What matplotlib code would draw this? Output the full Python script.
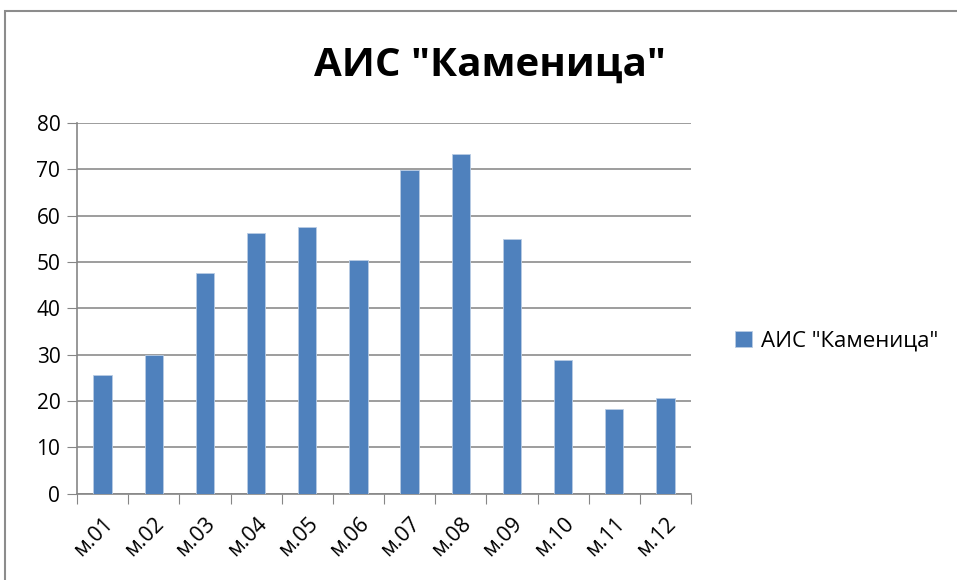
import matplotlib
matplotlib.use('Agg')
import matplotlib.pyplot as plt
from matplotlib.patches import Rectangle
import numpy as np

months = ['м.01', 'м.02', 'м.03', 'м.04', 'м.05', 'м.06',
          'м.07', 'м.08', 'м.09', 'м.10', 'м.11', 'м.12']
values = [25.6, 30.0, 47.6, 56.3, 57.5, 50.5, 69.9, 73.3, 54.9, 28.9, 18.2, 20.6]
y_ticks = [0, 10, 20, 30, 40, 50, 60, 70, 80]
series_name = 'АИС "Каменица"'

plt.rcParams['font.family'] = ['Open Sans', 'DejaVu Sans']

fig = plt.figure(figsize=(9.57, 5.8), dpi=100)
ax = fig.add_axes([77 / 957, 1 - 493.5 / 580, (691 - 77) / 957, (493.5 - 123) / 580])

# outer chart frame
fig.patches.append(Rectangle((5 / 957, -0.05), 1.2, 1 - 11 / 580 + 0.05,
                             transform=fig.transFigure, fill=False,
                             edgecolor='#8c8c8c', linewidth=1.5))

x = np.arange(len(months))
ax.bar(x, values, width=0.36, color='#4F81BD', edgecolor='#b8cce4',
       linewidth=0.6, label=series_name, zorder=3)

ax.set_xlim(-0.5, len(months) - 0.5)
ax.set_ylim(0, 80)
ax.set_yticks(y_ticks)
ax.tick_params(axis='y', labelsize=15, length=7, color='#868686', pad=5)
ax.yaxis.grid(True, color='#8c8c8c', linewidth=1.2, zorder=0)

# category ticks at boundaries, labels centered under bars
ax.set_xticks(np.arange(-0.5, len(months), 1.0))
ax.set_xticklabels([])
ax.set_xticks(x, minor=True)
ax.set_xticklabels(months, minor=True, rotation=45, ha='right',
                   rotation_mode='anchor', fontsize=15.5)
ax.tick_params(axis='x', which='major', length=7, color='#868686')
ax.tick_params(axis='x', which='minor', length=0, pad=14)

for s in ['top', 'right']:
    ax.spines[s].set_visible(False)
for s in ['left', 'bottom']:
    ax.spines[s].set_color('#868686')
    ax.spines[s].set_linewidth(1.2)

fig.text(490 / 957, 1 - 65 / 580, series_name, ha='center', va='center',
         fontsize=29, fontweight='bold')

ax.legend(loc='center left', bbox_to_anchor=(715 / 957, 1 - 341 / 580),
          bbox_transform=fig.transFigure, frameon=False, fontsize=16,
          handlelength=0.75, handleheight=0.75, handletextpad=0.4)

fig.savefig('out.png', dpi=100)
